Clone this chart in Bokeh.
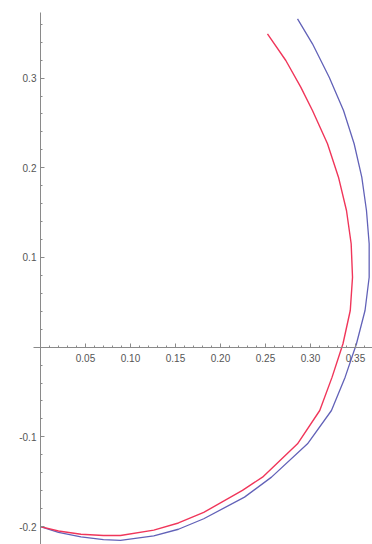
from bokeh.plotting import figure
from bokeh.models import LinearAxis, FixedTicker, NumeralTickFormatter, Range1d
from bokeh.embed import file_html
from bokeh.resources import INLINE

# Curve data
red_x = [0.000, 0.020, 0.045, 0.070, 0.0889, 0.1259, 0.1533, 0.1814, 0.2244, 0.2467,
         0.2856, 0.3103, 0.3240, 0.3361, 0.3442, 0.3467, 0.3452, 0.3400, 0.3311, 0.3189,
         0.3022, 0.2892, 0.2726, 0.2522]
red_y = [-0.200, -0.2050, -0.2085, -0.2100, -0.2100, -0.2040, -0.1960, -0.1842, -0.1597, -0.1449,
         -0.1077, -0.0706, -0.0334, 0.0038, 0.0409, 0.0780, 0.1153, 0.1524, 0.1895, 0.2268,
         0.2639, 0.2899, 0.3196, 0.3494]

blue_x = [0.000, 0.020, 0.045, 0.070, 0.0889, 0.1259, 0.1533, 0.1814, 0.2267, 0.2567,
          0.2967, 0.3233, 0.3385, 0.3511, 0.3606, 0.3652, 0.3652, 0.3622, 0.3570, 0.3485,
          0.3367, 0.3208, 0.3022, 0.2856]
blue_y = [-0.200, -0.2065, -0.2115, -0.2145, -0.2155, -0.2105, -0.2030, -0.1913, -0.1672, -0.1449,
          -0.1077, -0.0706, -0.0334, 0.0038, 0.0409, 0.0780, 0.1153, 0.1524, 0.1895, 0.2268,
          0.2639, 0.3010, 0.3382, 0.3661]

# Ticks
x_major = [0.05, 0.10, 0.15, 0.20, 0.25, 0.30, 0.35]
x_minor = [0.01, 0.02, 0.03, 0.04, 0.06, 0.07, 0.08, 0.09, 0.11, 0.12, 0.13, 0.14,
           0.16, 0.17, 0.18, 0.19, 0.21, 0.22, 0.23, 0.24, 0.26, 0.27, 0.28, 0.29,
           0.31, 0.32, 0.33, 0.34, 0.36]
y_major = [-0.2, -0.1, 0.1, 0.2, 0.3]
y_minor = [-0.18, -0.16, -0.14, -0.12, -0.08, -0.06, -0.04, -0.02, 0.02, 0.04, 0.06, 0.08,
           0.12, 0.14, 0.16, 0.18, 0.22, 0.24, 0.26, 0.28, 0.32, 0.34, 0.36]

p = figure(width=372, height=544, output_backend="svg", toolbar_location=None,
           x_range=Range1d(-0.0444, 0.3689), y_range=Range1d(-0.2200, 0.3865),
           x_axis_location=None, y_axis_location=None, min_border=0)
p.grid.visible = False
p.outline_line_color = None
p.background_fill_color = "white"

axis_color = "#8a8a8a"
label_color = "#555555"

xaxis = LinearAxis(fixed_location=0,
                   ticker=FixedTicker(ticks=x_major, minor_ticks=x_minor),
                   formatter=NumeralTickFormatter(format="0.00"),
                   bounds=(-0.008, 0.3689))
yaxis = LinearAxis(fixed_location=0,
                   ticker=FixedTicker(ticks=y_major, minor_ticks=y_minor),
                   formatter=NumeralTickFormatter(format="0.0"),
                   bounds=(-0.2200, 0.3735))
for ax in (xaxis, yaxis):
    ax.axis_line_color = axis_color
    ax.axis_line_width = 1
    ax.major_tick_line_color = axis_color
    ax.minor_tick_line_color = axis_color
    ax.major_tick_in = 4
    ax.major_tick_out = 0
    ax.minor_tick_in = 2
    ax.minor_tick_out = 0
    ax.major_label_text_font = "Liberation Sans"
    ax.major_label_text_font_size = "10px"
    ax.major_label_text_color = label_color
xaxis.major_label_standoff = 7
yaxis.major_label_standoff = 4
p.add_layout(xaxis, "below")
p.add_layout(yaxis, "left")

p.line(blue_x, blue_y, line_color="#6262b8", line_width=1.3, line_join="round")
p.line(red_x, red_y, line_color="#f0365a", line_width=1.4, line_join="round")

open("out.html", "w").write(file_html(p, INLINE))
